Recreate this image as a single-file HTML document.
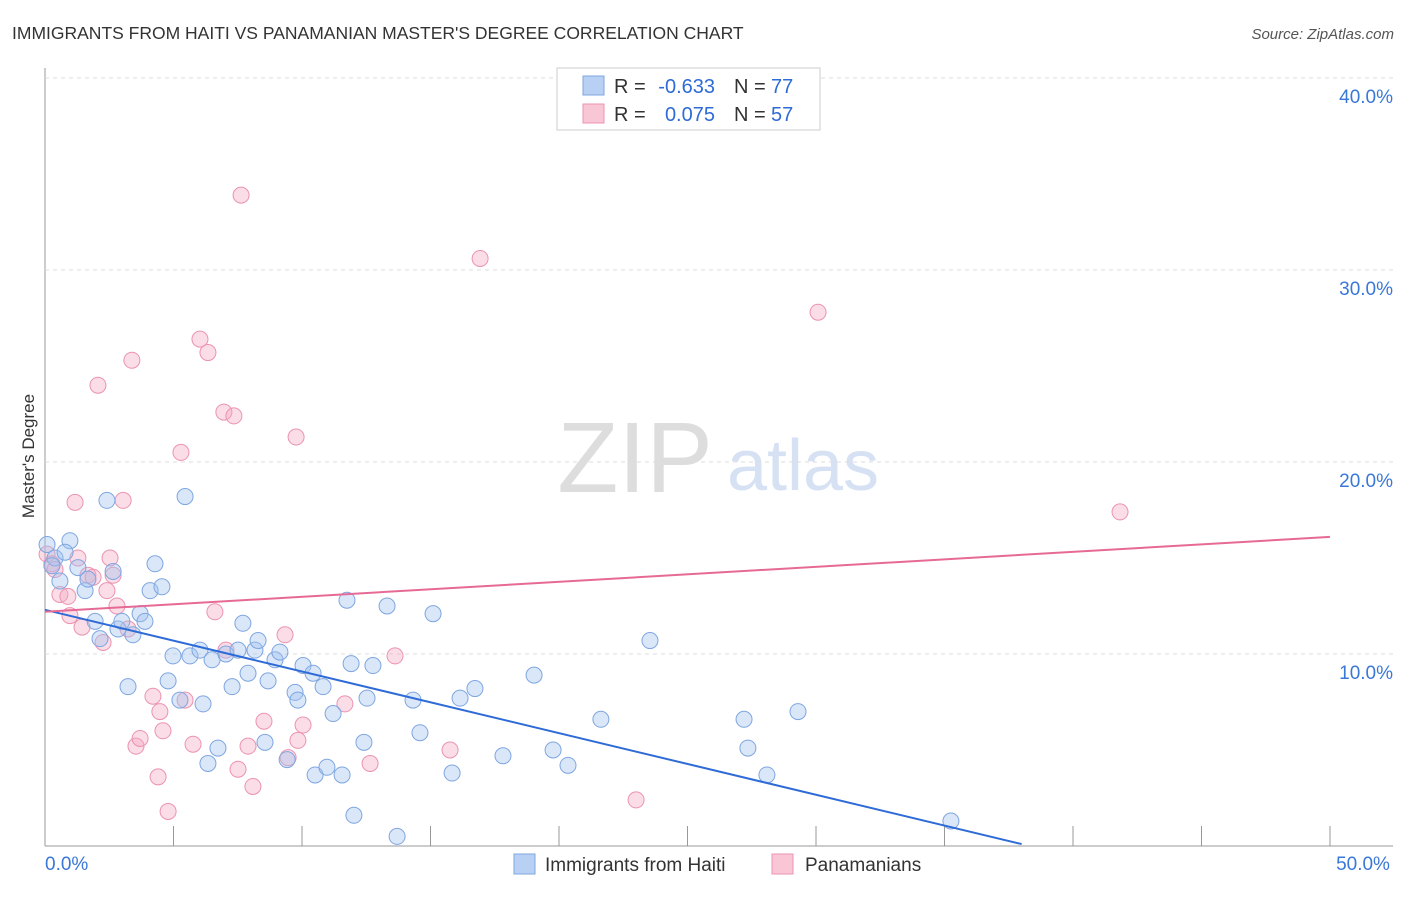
<!DOCTYPE html>
<html><head><meta charset="utf-8"><style>
body{margin:0;background:#fff;font-family:"Liberation Sans",sans-serif;}
svg text{font-family:"Liberation Sans",sans-serif;}
</style></head><body>
<svg id="c" width="1406" height="892">
<text x="12" y="39" font-size="17.5" fill="#333">IMMIGRANTS FROM HAITI VS PANAMANIAN MASTER'S DEGREE CORRELATION CHART</text>
<text x="1394" y="39" font-size="15" fill="#555" font-style="italic" text-anchor="end">Source: ZipAtlas.com</text>
<text x="34" y="456" font-size="17" fill="#333" text-anchor="middle" transform="rotate(-90 34 456)">Master's Degree</text>
<g><text x="635" y="492" font-size="100" fill="#ddd" font-family="Liberation Serif" text-anchor="middle">ZIP</text><text x="803" y="490" font-size="72" fill="#d6e2f3" text-anchor="middle">atlas</text></g>
<g id="grid"></g><g id="pts"></g><g id="lines"></g>
<g>
<rect x="557" y="68" width="263" height="62" fill="#fff" stroke="#ccc"/>
<rect x="583" y="76" width="21" height="19" fill="#b7d0f4" stroke="#7fa6e0"/>
<rect x="583" y="104" width="21" height="19" fill="#f9c6d6" stroke="#eb93b0"/>
<text x="614" y="93" font-size="20" fill="#333">R =</text>
<text x="715" y="93" font-size="20" fill="#2e6bd6" text-anchor="end">-0.633</text>
<text x="734" y="93" font-size="20" fill="#333">N =</text>
<text x="771" y="93" font-size="20" fill="#2e6bd6">77</text>
<text x="614" y="121" font-size="20" fill="#333">R =</text>
<text x="715" y="121" font-size="20" fill="#2e6bd6" text-anchor="end">0.075</text>
<text x="734" y="121" font-size="20" fill="#333">N =</text>
<text x="771" y="121" font-size="20" fill="#2e6bd6">57</text>
</g>
<g>
<rect x="514" y="854" width="21" height="20" fill="#b7d0f4" stroke="#7fa6e0"/>
<text x="545" y="871" font-size="19" fill="#333">Immigrants from Haiti</text>
<rect x="772" y="854" width="21" height="20" fill="#f9c6d6" stroke="#eb93b0"/>
<text x="805" y="871" font-size="19" fill="#333">Panamanians</text>
</g>
</svg>
<script>
const xTicks=[0,5,10,15,20,25,30,35,40,45,50];
const yTicks=[10,20,30,40];
const blueX=[0.08,0.39,0.27,0.58,0.97,0.78,1.28,1.56,1.67,1.95,2.14,2.41,2.65,2.84,2.99,3.23,3.42,3.70,3.89,4.09,4.28,4.55,4.79,4.98,5.25,5.45,5.64,6.03,6.15,6.34,6.50,6.73,7.04,7.28,7.51,7.70,7.90,8.17,8.29,8.56,8.68,8.95,9.14,9.42,9.73,9.84,10.04,10.43,10.51,10.82,10.97,11.21,11.56,11.75,11.91,12.02,12.41,12.53,12.76,13.31,13.70,14.32,14.59,15.10,15.84,16.15,16.73,17.82,19.03,19.77,20.35,21.63,23.54,27.20,27.35,28.09,29.30,35.25];
const blueY=[15.7,15.0,14.6,13.8,15.9,15.3,14.5,13.3,13.9,11.7,10.8,18.0,14.3,11.3,11.7,8.3,11.0,12.1,11.7,13.3,14.7,13.5,8.6,9.9,7.6,18.2,9.9,10.2,7.4,4.3,9.7,5.1,10.0,8.3,10.2,11.6,9.0,10.2,10.7,5.4,8.6,9.7,10.1,4.5,8.0,7.6,9.4,9.0,3.7,8.3,4.1,6.9,3.7,12.8,9.5,1.6,5.4,7.7,9.4,12.5,0.5,7.6,5.9,12.1,3.8,7.7,8.2,4.7,8.9,5.0,4.2,6.6,10.7,6.6,5.1,3.7,7.0,1.3];
const pinkX=[0.08,0.27,0.39,0.58,0.89,0.97,1.17,1.28,1.44,1.67,1.87,2.06,2.26,2.41,2.53,2.65,2.80,3.04,3.23,3.38,3.54,3.70,4.20,4.40,4.47,4.59,4.79,5.29,5.45,5.76,6.03,6.34,6.61,6.96,7.04,7.35,7.51,7.63,7.90,8.09,8.52,9.34,9.46,9.77,9.84,10.04,11.67,12.65,13.62,15.76,16.93,23.00,30.08,41.83];
const pinkY=[15.2,14.7,14.4,13.1,13.0,12.0,17.9,15.0,11.4,14.1,14.0,24.0,10.6,13.3,15.0,14.1,12.5,18.0,11.3,25.3,5.2,5.6,7.8,3.6,7.0,6.0,1.8,20.5,7.6,5.3,26.4,25.7,12.2,22.6,10.2,22.4,4.0,33.9,5.2,3.1,6.5,11.0,4.6,21.3,5.5,6.3,7.4,4.3,9.9,5.0,30.6,2.4,27.8,17.4];
const blueLine=[0,12.3,38,0.1];
const pinkLine=[0,12.2,50,16.1];
const X=v=>45+v*25.7, Y=v=>846-v*19.2;
const NS="http://www.w3.org/2000/svg";
function mk(p,t,a){const e=document.createElementNS(NS,t);for(const k in a)e.setAttribute(k,a[k]);p.appendChild(e);return e;}
const g=document.getElementById('grid');
let ax=mk(g,'line',{x1:45,y1:68,x2:45,y2:846,stroke:'#999'});


ax=mk(g,'line',{x1:45,y1:846,x2:1393,y2:846,stroke:'#999'});


yTicks.forEach(v=>{const l=mk(g,'line',{x1:45,y1:Y(v),x2:1393,y2:Y(v),stroke:'#ddd','stroke-dasharray':'4,4'});


const t=mk(g,'text',{x:1393,y:Y(v)+25,'font-size':19,fill:'#3a78d8','text-anchor':'end'});t.textContent=v.toFixed(1)+'%';

});
xTicks.forEach(v=>{const l=mk(g,'line',{x1:X(v),y1:826,x2:X(v),y2:846,stroke:'#999'});

});
[[0,'start'],[50,'middle']].forEach(([v,a])=>{const t=mk(g,'text',{x:v?X(v)+33:45,y:870,'font-size':19,fill:'#3a78d8','text-anchor':a});t.textContent=v.toFixed(1)+'%';

});
const p=document.getElementById('pts');
pinkX.forEach((x,i)=>{const c=mk(p,'circle',{cx:X(x),cy:Y(pinkY[i]),r:8,fill:'rgba(246,170,195,0.4)',stroke:'#eb93b0'});

});
blueX.forEach((x,i)=>{const c=mk(p,'circle',{cx:X(x),cy:Y(blueY[i]),r:8,fill:'rgba(160,195,240,0.4)',stroke:'#7fa6e0'});

});
const L=document.getElementById('lines');
let bl=mk(L,'line',{x1:X(blueLine[0]),y1:Y(blueLine[1]),x2:X(blueLine[2]),y2:Y(blueLine[3]),stroke:'#2e6bd6','stroke-width':2});


let pl=mk(L,'line',{x1:X(pinkLine[0]),y1:Y(pinkLine[1]),x2:X(pinkLine[2]),y2:Y(pinkLine[3]),stroke:'#e66a95','stroke-width':2});


</script>
</body></html>
